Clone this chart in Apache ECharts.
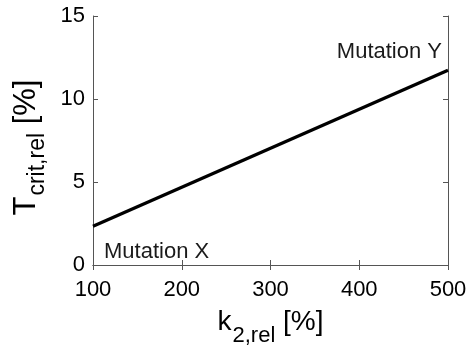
<!DOCTYPE html>
<html><head><meta charset="utf-8">
<script src="https://cdn.jsdelivr.net/npm/echarts@6/dist/echarts.min.js"></script>
<style>html,body{margin:0;padding:0;background:#fff}#c{width:471px;height:352px}</style>
</head><body><div id="c"></div>
<script>
const xValues = [100, 500];
const yValues = [2.33, 11.73];
const xTicks = [100, 200, 300, 400, 500];
const yTicks = [0, 5, 10, 15];
const annotations = ['Mutation X', 'Mutation Y'];

const FONT = 'Liberation Sans, Arial, sans-serif';
const axisColor = '#555555';
const chart = echarts.init(document.getElementById('c'), null, {renderer: 'canvas'});
const common = {
  axisLine: {show: true, lineStyle: {color: axisColor, width: 1}},
  axisTick: {show: true, inside: true, length: 5, lineStyle: {color: axisColor}},
  splitLine: {show: false}
};
chart.setOption({
  animation: false,
  grid: {left: 93, right: 23, top: 16, bottom: 85},
  xAxis: [
    Object.assign({type: 'value', min: xTicks[0], max: xTicks[xTicks.length-1], interval: 100, position: 'bottom',
      axisLabel: {color: '#000', fontSize: 22, fontFamily: FONT, margin: 14},
      name: '{m|k}{s|2,rel}{m| [%]}', nameLocation: 'middle', nameGap: 43,
      nameTextStyle: {fontFamily: FONT, color: '#000', rich: {
        m: {fontSize: 28, fontFamily: FONT, color: '#000', verticalAlign: 'top', lineHeight: 28},
        s: {fontSize: 22, fontFamily: FONT, color: '#000', verticalAlign: 'top', lineHeight: 22, padding: [17, 0, 0, 1]}
      }}}, common),
    Object.assign({type: 'value', min: xTicks[0], max: xTicks[xTicks.length-1], interval: 100, position: 'top',
      axisLabel: {show: false}}, common)
  ],
  yAxis: [
    Object.assign({type: 'value', min: yTicks[0], max: yTicks[yTicks.length-1], interval: 5, position: 'left',
      axisLabel: {color: '#000', fontSize: 22, fontFamily: FONT, margin: 8},
      name: '{m|T}{s|crit,rel}{m| [%]}', nameLocation: 'middle', nameGap: 38,
      nameTextStyle: {fontFamily: FONT, color: '#000', padding: [0, 14, 0, 0], rich: {
        m: {fontSize: 31, fontFamily: FONT, color: '#000', verticalAlign: 'top', lineHeight: 31},
        s: {fontSize: 23, fontFamily: FONT, color: '#000', verticalAlign: 'top', lineHeight: 23, padding: [16, 0, 0, 1]}
      }}}, common),
    Object.assign({type: 'value', min: yTicks[0], max: yTicks[yTicks.length-1], interval: 5, position: 'right',
      axisLabel: {show: false}}, common)
  ],
  series: [{
    type: 'line', xAxisIndex: 0, yAxisIndex: 0,
    data: xValues.map((x, i) => [x, yValues[i]]),
    showSymbol: false, symbol: 'none',
    lineStyle: {color: '#000', width: 3.3}
  }],
  graphic: [
    {type: 'text', left: 104, top: 241, style: {text: annotations[0], font: '22px ' + FONT, fill: '#1a1a1a'}},
    {type: 'text', right: 29, top: 41, style: {text: annotations[1], font: '22px ' + FONT, fill: '#1a1a1a'}}
  ]
});
</script></body></html>
